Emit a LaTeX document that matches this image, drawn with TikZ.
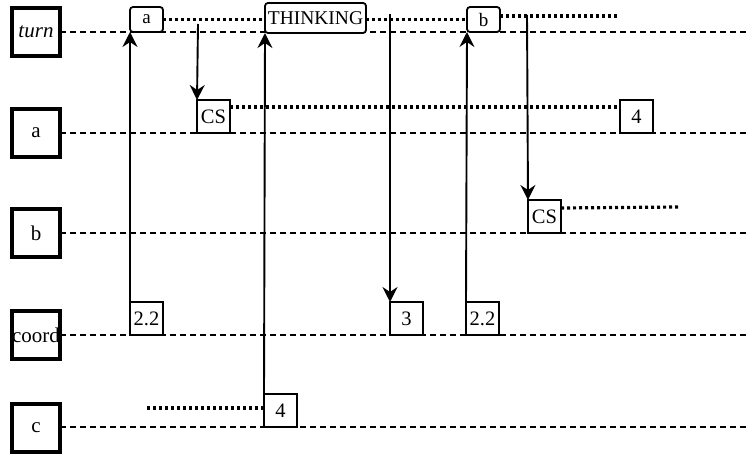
\documentclass[tikz,border=0pt]{standalone}
\usepackage{fontspec}
\setmainfont{Liberation Serif}
\usetikzlibrary{arrows.meta}
\begin{document}
\begin{tikzpicture}[x=1pt,y=-1pt,
  hdr/.style={draw,line width=3.5pt,minimum width=48pt,minimum height=48pt,inner sep=0pt,outer sep=0pt,fill=white,font=\fontsize{21}{24}\selectfont},
  lane/.style={line width=1.3pt,dash pattern=on 6pt off 4pt},
  ev/.style={draw,line width=1.8pt,fill=white,anchor=south west,inner sep=0pt,outer sep=0pt,minimum width=33pt,minimum height=33pt,font=\fontsize{20.5}{23}\selectfont},
  rev/.style={ev,rounded corners=3pt,minimum height=25pt,font=\fontsize{19}{22}\selectfont},
  dots/.style={line width=3.2pt,dash pattern=on 3pt off 3pt},
  arr/.style={line width=1.9pt,-{Stealth[length=15pt,width=15pt,inset=5pt]}},
]
\useasboundingbox (0,0) rectangle (746,458);
% headers
\node[hdr] (hturn) at (36,32) {\itshape turn};
\node[hdr] (ha) at (36,133) {a};
\node[hdr] (hb) at (36,233) {b};
\node[hdr] (hcoord) at (36,335) {coord};
\node[hdr] (hc) at (36,428) {c};
% lane ends
\coordinate (eturn) at (746,32);
\coordinate (ea) at (746,133);
\coordinate (eb) at (746,233);
\coordinate (ecoord) at (746,335);
\coordinate (ec) at (746,427);
\draw[lane] (hturn.east) -- (eturn);
\draw[lane] (ha.east) -- (ea);
\draw[lane] (hb.east) -- (eb);
\draw[lane] (hcoord.east) -- (ecoord);
\draw[lane] (hc.east |- ec) -- (ec);
% dotted line ends and arrow starts
\coordinate (bend) at (618,16);
\coordinate (csbend) at (680,207);
\coordinate (cstart) at (147,408);
\coordinate (s1) at (198,24);
\coordinate (s2) at (390,14);
\coordinate (s3) at (527,15);
% event nodes
\node[rev] (ta) at (130,32) {a};
\node[rev,minimum width=101pt,minimum height=30pt,font=\fontsize{19.5}{22}\selectfont] (tthink) at (265,33) {THINKING};
\node[rev] (tb) at (467,32) {b};
\node[ev] (csa) at (197,133) {CS};
\node[ev] (a4) at (620,133) {4};
\node[ev] (csb) at (528,233) {CS};
\node[ev] (c22a) at (130,335) {2.2};
\node[ev] (c3) at (390,335) {3};
\node[ev] (c22b) at (466,335) {2.2};
\node[ev] (c4) at (264,427) {4};
% dotted lines
\draw[dots] (ta.east) -- (ta.east -| tthink.west);
\draw[dots] (tb.west -| tthink.east) -- (tb.west);
\draw[dots] (tb.east |- bend) -- (bend);
\draw[dots] ([yshift=-7pt]csa.north east) -- ([yshift=-7pt]a4.north west);
\draw[dots] ([yshift=-8pt]csb.north east) -- (csbend);
\draw[dots] (cstart) -- (cstart -| c4.west);
% arrows
\draw[arr] (c22a.north west) -- (ta.south west);
\draw[arr] (c4.north west) -- (tthink.south west);
\draw[arr] (c22b.north west) -- (tb.south west);
\draw[arr] (s1) -- (csa.north west);
\draw[arr] (s2) -- (c3.north west);
\draw[arr] (s3) -- (csb.north west);
\end{tikzpicture}
\end{document}
